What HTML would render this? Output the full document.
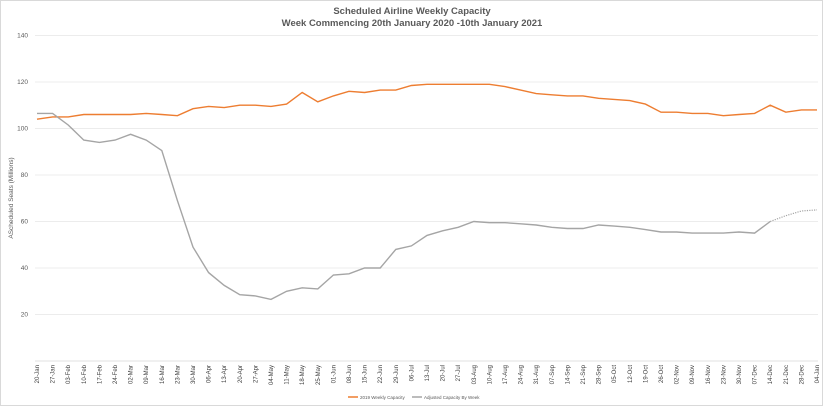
<!DOCTYPE html>
<html><head><meta charset="utf-8"><style>
body{margin:0;background:#fff;}
svg{display:block;font-family:"Liberation Sans",sans-serif;}
</style></head><body>
<svg id="chart" width="823" height="406" viewBox="0 0 823 406">
<rect x="0.5" y="0.5" width="822" height="405" fill="#fff" stroke="#d9d9d9"/>
<text x="412" y="14" text-anchor="middle" font-size="9.5" font-weight="bold" fill="#595959">Scheduled Airline Weekly Capacity</text>
<text x="412" y="26" text-anchor="middle" font-size="9.5" font-weight="bold" fill="#595959">Week Commencing 20th January 2020 -10th January 2021</text>
<text transform="translate(13,198) rotate(-90)" text-anchor="middle" font-size="6.5" fill="#595959">AScheduled Seats (Millions)</text>
<g id="grid"></g><g id="yt"></g><g id="xt"></g><g id="series"></g>
<g>
<line x1="348" y1="397" x2="358" y2="397" stroke="#ed7d31" stroke-width="1.5"/>
<text x="360" y="399" font-size="4.5" fill="#595959">2019 Weekly Capacity</text>
<line x1="412" y1="397" x2="422" y2="397" stroke="#a5a5a5" stroke-width="1.5"/>
<text x="424" y="399" font-size="4.5" fill="#595959">Adjusted Capacity By Week</text>
</g>
</svg>
<script>
const categories=["20-Jan","27-Jan","03-Feb","10-Feb","17-Feb","24-Feb","02-Mar","09-Mar","16-Mar","23-Mar","30-Mar","06-Apr","13-Apr","20-Apr","27-Apr","04-May","11-May","18-May","25-May","01-Jun","08-Jun","15-Jun","22-Jun","29-Jun","06-Jul","13-Jul","20-Jul","27-Jul","03-Aug","10-Aug","17-Aug","24-Aug","31-Aug","07-Sep","14-Sep","21-Sep","28-Sep","05-Oct","12-Oct","19-Oct","26-Oct","02-Nov","09-Nov","16-Nov","23-Nov","30-Nov","07-Dec","14-Dec","21-Dec","28-Dec","04-Jan"];
const cap2019=[104,105,105,106,106,106,106,106.5,106,105.5,108.5,109.5,109,110,110,109.5,110.5,115.5,111.5,114,116,115.5,116.5,116.5,118.5,119,119,119,119,119,118,116.5,115,114.5,114,114,113,112.5,112,110.5,107,107,106.5,106.5,105.5,106,106.5,110,107,108,108];
const adjusted=[106.5,106.5,101.5,95,94,95,97.5,95,90.5,69,49,38,32.5,28.5,28,26.5,30,31.5,31,37,37.5,40,40,48,49.5,54,56,57.5,60,59.5,59.5,59,58.5,57.5,57,57,58.5,58,57.5,56.5,55.5,55.5,55,55,55,55.5,55,60,62.5,64.5,65];
const solidUntil=47;
const yTicks=[20,40,60,80,100,120,140];
const NS="http://www.w3.org/2000/svg";
const x0=37,x1=817,yZero=361,yPer=46.5/20;
const X=i=>x0+i*(x1-x0)/(categories.length-1);
const Y=v=>yZero-v*yPer;
function mk(t,a,p){const e=document.createElementNS(NS,t);for(const k in a)e.setAttribute(k,a[k]);p.appendChild(e);return e;}
const grid=document.getElementById('grid'),yt=document.getElementById('yt'),xt=document.getElementById('xt'),ser=document.getElementById('series');
yTicks.forEach(v=>{
 const l=mk('line',{x1:35,x2:818,y1:Y(v),y2:Y(v),stroke:'#e6e6e6','stroke-width':0.8},grid);
 
 
 const t=mk('text',{x:28,y:Y(v)+2,'text-anchor':'end','font-size':6.5,fill:'#595959'},yt);
 t.textContent=v;
 
 
});
const ax=mk('line',{x1:35,x2:818,y1:yZero,y2:yZero,stroke:'#d9d9d9','stroke-width':0.8},grid);


categories.forEach((c,i)=>{
 const t=mk('text',{transform:`translate(${X(i)+2},${yZero+4}) rotate(-90)`,'text-anchor':'end','font-size':6,fill:'#404040'},xt);
 t.textContent=c;
 
 
});
const pts=(arr,a,b)=>arr.slice(a,b).map((v,k)=>X(a+k).toFixed(1)+','+Y(v).toFixed(1)).join(' ');
const p1=mk('polyline',{points:pts(cap2019,0,cap2019.length),fill:'none',stroke:'#ed7d31','stroke-width':1.4},ser);


const p2=mk('polyline',{points:pts(adjusted,0,solidUntil+1),fill:'none',stroke:'#a5a5a5','stroke-width':1.4},ser);


const p3=mk('polyline',{points:pts(adjusted,solidUntil,adjusted.length),fill:'none',stroke:'#a5a5a5','stroke-width':1.2,'stroke-dasharray':'1.2,1.2'},ser);


</script>
</body></html>
